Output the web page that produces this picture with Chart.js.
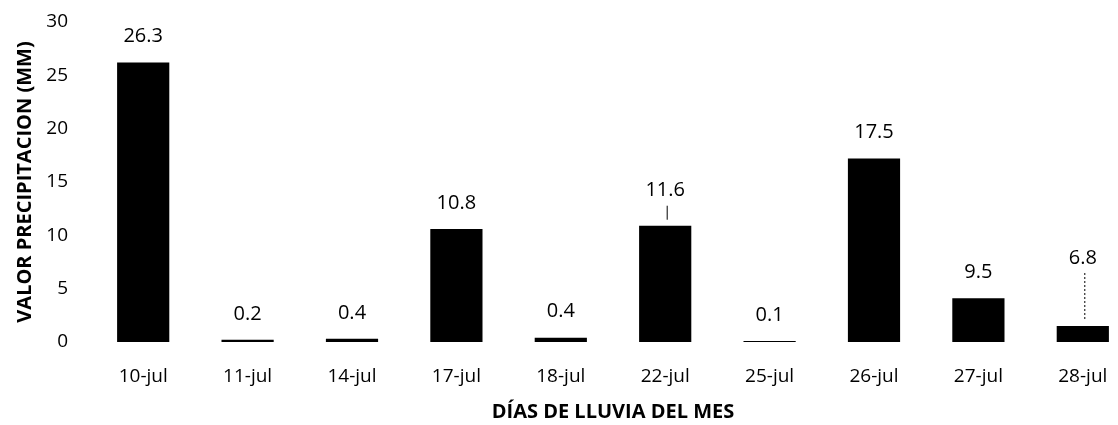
<!DOCTYPE html>
<html>
<head>
<meta charset="utf-8">
<script src="https://cdn.jsdelivr.net/npm/chart.js@4"></script>
<style>
  html, body { margin: 0; padding: 0; background: #fff; overflow: hidden; }
  #wrap { width: 1140px; height: 425px; position: relative; }
</style>
</head>
<body>
<div id="wrap"><canvas id="barChart"></canvas></div>
<script>
// Days with rain and measured values
const days = ['10-jul', '11-jul', '14-jul', '17-jul', '18-jul', '22-jul', '25-jul', '26-jul', '27-jul', '28-jul'];
const barHeights = [26.2, 0.2, 0.3, 10.6, 0.4, 10.9, 0.1, 17.2, 4.1, 1.5];
const valueLabels = ['26.3', '0.2', '0.4', '10.8', '0.4', '11.6', '0.1', '17.5', '9.5', '6.8'];
const yTicks = [0, 5, 10, 15, 20, 25, 30];

const fontFamily = "'Open Sans', 'Noto Sans', sans-serif";

// Draws the value text above each bar (two of them sit higher, with a leader line)
const valueLabelPlugin = {
    id: 'valueLabels',
    afterDatasetsDraw(chart, args, opts) {
        const ctx = chart.ctx;
        const meta = chart.getDatasetMeta(0);
        ctx.save();
        ctx.font = `20px ${fontFamily}`;
        ctx.fillStyle = '#000';
        ctx.textAlign = 'center';
        ctx.textBaseline = 'middle';
        meta.data.forEach((bar, i) => {
            const lift = opts.lift[i] || 0;
            const y = bar.y - 26 - lift;
            ctx.fillText(valueLabels[i], bar.x, y);
            if (lift) {
                ctx.strokeStyle = '#000';
                ctx.lineWidth = 1;
                if (opts.dashed[i]) ctx.setLineDash([2, 2]);
                ctx.beginPath();
                ctx.moveTo(bar.x + 2, y + 15);
                ctx.lineTo(bar.x + 2, bar.y - 6);
                ctx.stroke();
                ctx.setLineDash([]);
            }
        });
        ctx.restore();
    }
};

const chartData = {
    labels: days,
    datasets: [{
        label: 'Valor precipitación',
        data: barHeights,
        backgroundColor: '#000',
        borderWidth: 0,
        barPercentage: 1,
        categoryPercentage: 0.5
    }]
};

const chartConfig = {
    type: 'bar',
    data: chartData,
    plugins: [valueLabelPlugin],
    options: {
        responsive: true,
        maintainAspectRatio: false,
        animation: false,
        layout: { padding: { top: 22, right: 5, bottom: 0, left: 0 } },
        plugins: {
            legend: { display: false },
            tooltip: { enabled: false },
            valueLabels: { lift: { 5: 9, 9: 42 }, dashed: { 9: true } }
        },
        scales: {
            x: {
                grid: { display: false, drawTicks: false },
                border: { display: false },
                ticks: { color: '#000', font: { family: fontFamily, size: 19 }, padding: 23, maxRotation: 0 },
                title: {
                    display: true,
                    text: 'DÍAS DE LLUVIA DEL MES',
                    color: '#000',
                    font: { family: fontFamily, size: 20, weight: 'bold' },
                    padding: { top: 0, bottom: 1 }
                },
                afterFit: (scale) => { scale.height = 83; }
            },
            y: {
                min: 0,
                max: 30,
                grid: { display: false, drawTicks: true, tickLength: 20 },
                border: { display: false },
                afterBuildTicks: (scale) => { scale.ticks = yTicks.map(v => ({ value: v })); },
                ticks: { color: '#000', font: { family: fontFamily, size: 19 }, padding: 3 },
                title: {
                    display: true,
                    text: 'VALOR PRECIPITACION (MM)',
                    color: '#000',
                    font: { family: fontFamily, size: 20, weight: 'bold' },
                    padding: { top: 13, bottom: 0 }
                },
                afterFit: (scale) => { scale.width = 91; }
            }
        }
    }
};

const ctx = document.getElementById('barChart').getContext('2d');
new Chart(ctx, chartConfig);
</script>
</body>
</html>
